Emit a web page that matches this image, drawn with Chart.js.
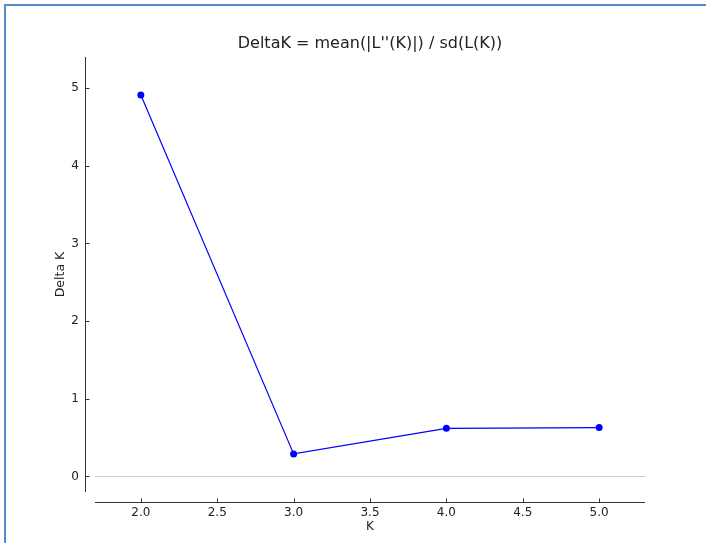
<!DOCTYPE html>
<html>
<head>
<meta charset="utf-8">
<script src="https://cdn.jsdelivr.net/npm/chart.js@4.4.1/dist/chart.umd.min.js"></script>
<style>
  html, body { margin: 0; padding: 0; background: #fff; }
  #wrap { position: relative; width: 706px; height: 543px; overflow: hidden; }
  #frame {
    position: absolute; left: 4px; top: 4px; width: 720px; height: 560px;
    border-left: 2px solid #5588cc; border-top: 2px solid #5588cc;
    pointer-events: none;
  }
  canvas { position: absolute; left: 0; top: 0; }
</style>
</head>
<body>
<div id="wrap">
  <canvas id="deltaChart" width="706" height="543"></canvas>
  <div id="frame"></div>
</div>
<script>
// Dữ liệu
const kValues = [2, 3, 4, 5];
const deltaK = [4.91, 0.29, 0.62, 0.63];
const xTicks = [2.0, 2.5, 3.0, 3.5, 4.0, 4.5, 5.0];
const yTicks = [0, 1, 2, 3, 4, 5];

const FONT = '"DejaVu Sans", Verdana, sans-serif';
const SPINE_GAP = 10;
const TICK_LEN = 4;

// Vẽ trục kiểu matplotlib (trục tách rời khỏi vùng vẽ)
const spinePlugin = {
    id: 'spines',
    afterDraw(chart) {
        const { ctx, chartArea, scales } = chart;
        const xs = scales.x, ys = scales.y;
        const sx = Math.round(chartArea.left - SPINE_GAP) + 0.5;
        const sy = Math.round(chartArea.bottom + SPINE_GAP) + 0.5;
        ctx.save();
        ctx.strokeStyle = '#333';
        ctx.lineWidth = 1;
        ctx.beginPath();
        ctx.moveTo(sx, chartArea.top);
        ctx.lineTo(sx, chartArea.bottom);
        ctx.moveTo(chartArea.left, sy);
        ctx.lineTo(chartArea.right, sy);
        yTicks.forEach(v => {
            const py = Math.round(ys.getPixelForValue(v)) + 0.5;
            ctx.moveTo(sx, py);
            ctx.lineTo(sx + TICK_LEN, py);
        });
        xTicks.forEach(v => {
            const px = Math.round(xs.getPixelForValue(v)) + 0.5;
            ctx.moveTo(px, sy);
            ctx.lineTo(px, sy - TICK_LEN);
        });
        ctx.stroke();
        ctx.restore();
    }
};

const ctx = document.getElementById('deltaChart').getContext('2d');
new Chart(ctx, {
    type: 'line',
    data: {
        datasets: [{
            data: kValues.map((k, i) => ({ x: k, y: deltaK[i] })),
            borderColor: '#0000ff',
            borderWidth: 1.2,
            backgroundColor: '#0000ff',
            pointRadius: 3.5,
            pointBorderWidth: 0,
            pointStyle: 'circle',
            tension: 0
        }]
    },
    options: {
        responsive: false,
        animation: false,
        layout: { padding: { top: 30, left: 0, right: 61, bottom: 0 } },
        plugins: {
            legend: { display: false },
            tooltip: { enabled: false },
            title: {
                display: true,
                fullSize: false,
                text: "DeltaK = mean(|L''(K)|) / sd(L(K))",
                color: '#222',
                font: { family: FONT, size: 16, weight: 'normal' },
                padding: { top: 4.4, bottom: 3.4 }
            }
        },
        scales: {
            x: {
                type: 'linear',
                min: 1.7,
                max: 5.3,
                afterBuildTicks: s => { s.ticks = xTicks.map(v => ({ value: v })); },
                afterFit: s => { s.height = 51; },
                border: { display: false },
                grid: { display: false, drawTicks: false },
                ticks: {
                    color: '#222',
                    padding: 14,
                    maxRotation: 0,
                    font: { family: FONT, size: 12 },
                    callback: v => Number(v).toFixed(1)
                },
                title: {
                    display: true,
                    text: 'K',
                    color: '#222',
                    font: { family: FONT, size: 12 },
                    padding: { top: 0, bottom: 8.8 }
                }
            },
            y: {
                min: -0.2,
                max: 5.4,
                afterBuildTicks: s => { s.ticks = yTicks.map(v => ({ value: v })); },
                afterFit: s => { s.width = 95; },
                border: { display: false },
                grid: {
                    drawTicks: false,
                    lineWidth: 1,
                    color: c => (c.tick && c.tick.value === 0) ? '#cccccc' : 'rgba(0,0,0,0)'
                },
                ticks: {
                    color: '#222',
                    padding: 16,
                    font: { family: FONT, size: 12 },
                    callback: v => String(v)
                },
                title: {
                    display: true,
                    text: 'Delta K',
                    color: '#222',
                    font: { family: FONT, size: 12.5 },
                    padding: { top: 53, bottom: 0 }
                }
            }
        }
    },
    plugins: [spinePlugin]
});
</script>
</body>
</html>
